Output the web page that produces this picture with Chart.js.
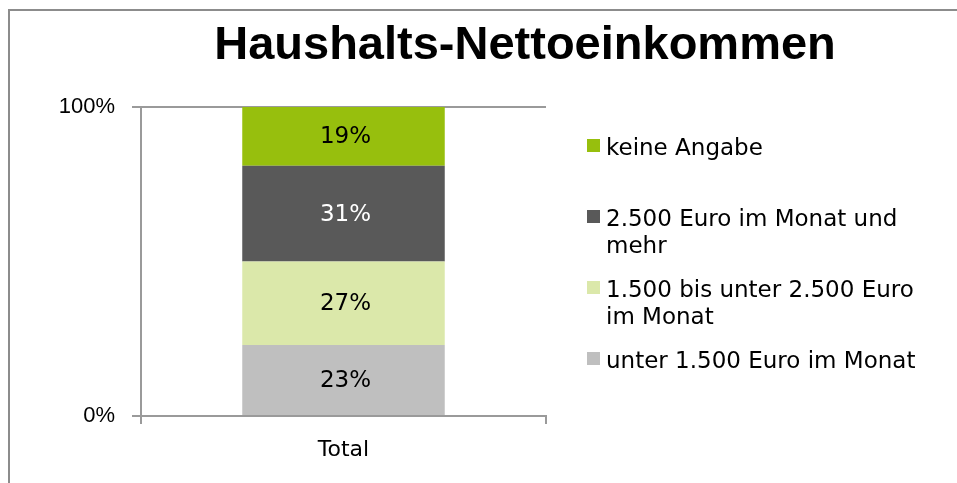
<!DOCTYPE html>
<html>
<head>
<meta charset="utf-8">
<script src="https://cdn.jsdelivr.net/npm/chart.js@4.4.0/dist/chart.umd.min.js"></script>
<style>
  html, body { margin: 0; padding: 0; background: #fff; }
  #wrap { width: 957px; height: 483px; }
</style>
</head>
<body>
<div id="wrap"><canvas id="chart" width="957" height="483"></canvas></div>
<script>
const title = 'Haushalts-Nettoeinkommen';
const categories = ['Total'];
// stacked from bottom to top
const seriesNames = [
  'unter 1.500 Euro im Monat',
  '1.500 bis unter 2.500 Euro\nim Monat',
  '2.500 Euro im Monat und\nmehr',
  'keine Angabe'
];
const seriesValues = [[23], [27], [31], [19]];
const seriesColors = ['#bfbfbf', '#dbe8aa', '#595959', '#97bf0d'];
const labelColors = ['#000000', '#000000', '#ffffff', '#000000'];
const yTicks = [0, 100];

const axisColor = '#9a9a9a';
const labelFont = '"DejaVu Sans", sans-serif';

const decor = {
  id: 'decor',
  beforeDraw(chart) {
    const ctx = chart.ctx;
    ctx.save();
    ctx.fillStyle = '#fff';
    ctx.fillRect(0, 0, chart.width, chart.height);
    // outer frame (only left and top edges are visible)
    ctx.strokeStyle = '#8c8c8c';
    ctx.lineWidth = 2;
    ctx.beginPath();
    ctx.moveTo(9, chart.height);
    ctx.lineTo(9, 10);
    ctx.lineTo(chart.width, 10);
    ctx.stroke();
    ctx.restore();
  },
  afterDatasetsDraw(chart) {
    const ctx = chart.ctx;
    ctx.save();
    ctx.font = '23px ' + labelFont;
    ctx.textAlign = 'center';
    ctx.textBaseline = 'middle';
    chart.data.datasets.forEach((ds, i) => {
      chart.getDatasetMeta(i).data.forEach((bar, j) => {
        ctx.fillStyle = labelColors[i];
        ctx.fillText(ds.data[j] + '%', bar.x + 2, (bar.y + bar.base) / 2 + 1);
      });
    });
    ctx.restore();
  },
  afterDraw(chart) {
    const ctx = chart.ctx;
    ctx.save();
    // title
    ctx.fillStyle = '#000';
    ctx.font = 'bold 47px "Liberation Sans", Arial, sans-serif';
    ctx.textAlign = 'center';
    ctx.textBaseline = 'alphabetic';
    ctx.fillText(title, 525, 59);

    // legend, top item first
    ctx.font = '23px ' + labelFont;
    ctx.textAlign = 'left';
    const n = chart.data.datasets.length;
    for (let k = 0; k < n; k++) {
      const ds = chart.data.datasets[n - 1 - k];
      const base = 155 + k * 71;
      ctx.fillStyle = ds.backgroundColor;
      ctx.fillRect(587, base - 16, 13, 13);
      ctx.fillStyle = '#000';
      ds.label.split('\n').forEach((line, li) => {
        ctx.fillText(line, 606, base + li * 27);
      });
    }
    ctx.restore();
  }
};

new Chart(document.getElementById('chart'), {
  type: 'bar',
  data: {
    labels: categories,
    datasets: seriesNames.map((name, i) => ({
      label: name,
      data: seriesValues[i],
      backgroundColor: seriesColors[i],
      borderWidth: 0,
      categoryPercentage: 1,
      barPercentage: 0.5
    }))
  },
  options: {
    responsive: false,
    animation: false,
    layout: { padding: { top: 107, right: 411, bottom: 0, left: 0 } },
    plugins: {
      legend: { display: false },
      tooltip: { enabled: false },
      title: { display: false }
    },
    scales: {
      x: {
        stacked: true,
        offset: true,
        grid: { offset: true, drawOnChartArea: false, color: axisColor, lineWidth: 2, tickLength: 8 },
        border: { color: axisColor, width: 2 },
        ticks: { color: '#000', font: { family: labelFont, size: 22 }, padding: 13 },
        afterFit: s => { s.height = 67; }
      },
      y: {
        stacked: true,
        min: 0,
        max: 100,
        afterBuildTicks: s => { s.ticks = yTicks.map(v => ({ value: v })); },
        grid: { color: axisColor, lineWidth: 2, tickLength: 9 },
        border: { color: axisColor, width: 2 },
        ticks: {
          color: '#000',
          font: { family: '"Liberation Sans", Arial, sans-serif', size: 22 },
          padding: 17,
          callback: v => v + '%'
        },
        afterFit: s => { s.width = 141; }
      }
    }
  },
  plugins: [decor]
});
</script>
</body>
</html>
